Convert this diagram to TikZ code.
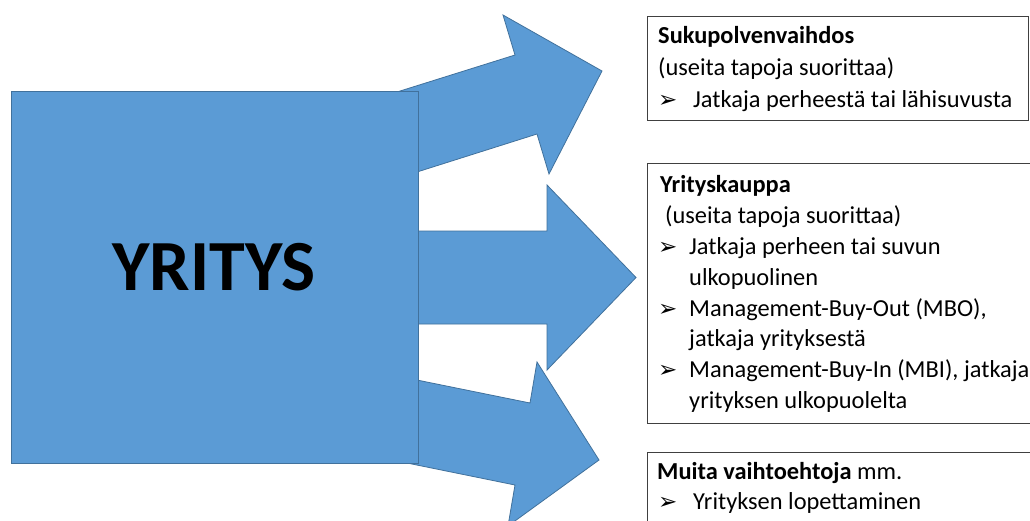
\documentclass[tikz,border=0pt]{standalone}
\usepackage{fontspec}
\setmainfont{Carlito}
\newfontfamily\bulletfont{DejaVu Sans}
\definecolor{arrowblue}{HTML}{5B9BD5}
\definecolor{arrowedge}{HTML}{41719C}
\definecolor{boxedge}{HTML}{404040}

\begin{document}
\begin{tikzpicture}[x=1pt,y=-1pt,
  blockshape/.style={fill=arrowblue,draw=arrowedge,line width=0.8pt,line join=miter},
  infobox/.style={draw=boxedge,line width=1pt},
  txt/.style={anchor=base west,inner sep=0pt,font=\fontsize{24.4}{31}\selectfont,text=black},
  bul/.style={anchor=base west,inner sep=0pt,font=\bulletfont\fontsize{23}{26}\selectfont,text=black}]
\useasboundingbox (0,0) rectangle (1030,520);
\fill[white] (0,0) rectangle (1030,520);
\begin{scope}
\clip (0,0) rectangle (1030,520);

% three block arrows leaving the company square
\draw[blockshape] (380,97.3) -- (515,55) -- (503,15) -- (602,71) -- (549,174) -- (537,134) -- (380,183.7) -- cycle;
\draw[blockshape] (380,231) -- (547,231) -- (547,185) -- (636,277.5) -- (547,370) -- (547,324) -- (380,324) -- cycle;
\draw[blockshape] (380,372.5) -- (530,403) -- (537,362) -- (599,460) -- (508,526) -- (515,485) -- (380,457.5) -- cycle;

% the company
\node[blockshape,rectangle,minimum width=407pt,minimum height=372pt,inner sep=0pt] (yritys) at (214.5,277) {};
\node[anchor=base,inner sep=0pt,font=\bfseries\fontsize{72}{80}\selectfont] (yname) at (214,290) {YRITYS};

% option boxes
\draw[infobox] (647,16) rectangle (1028,120);
\draw[infobox] (647,163) rectangle (1040,423);
\draw[infobox] (647,452) rectangle (1040,540);

% box 1
\node[txt] (t1a) at (658,43) {\textbf{Sukupolvenvaihdos}};
\node[txt] (t1b) at (658,75) {(useita tapoja suorittaa)};
\node[bul] (b1c) at (658,107) {➢};
\node[txt] (t1c) at (693,107) {Jatkaja perheestä tai lähisuvusta};

% box 2
\node[txt] (t2a) at (660,192) {\textbf{Yrityskauppa}};
\node[txt] (t2b) at (665,223) {(useita tapoja suorittaa)};
\node[bul] (b2c) at (658,254) {➢};
\node[txt] (t2c) at (689,254) {Jatkaja perheen tai suvun};
\node[txt] (t2d) at (689,285) {ulkopuolinen};
\node[bul] (b2e) at (658,316) {➢};
\node[txt] (t2e) at (689,316) {Management-Buy-Out (MBO),};
\node[txt] (t2f) at (689,346) {jatkaja yrityksestä};
\node[bul] (b2g) at (658,377) {➢};
\node[txt] (t2g) at (689,377) {Management-Buy-In (MBI), jatkaja};
\node[txt] (t2h) at (689,408) {yrityksen ulkopuolelta};

% box 3
\node[txt] (t3a) at (657,479) {\textbf{Muita vaihtoehtoja} mm.};
\node[bul] (b3b) at (658,509) {➢};
\node[txt] (t3b) at (693,509) {Yrityksen lopettaminen};
\end{scope}
\end{tikzpicture}
\end{document}
